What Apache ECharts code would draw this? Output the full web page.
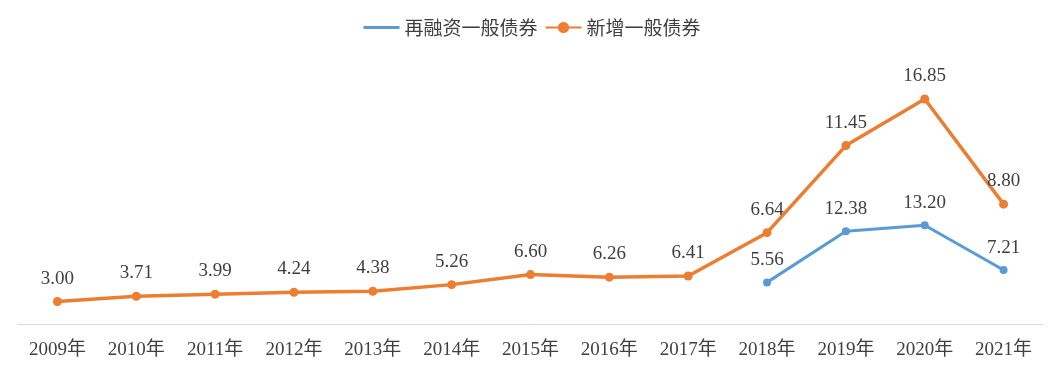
<!DOCTYPE html>
<html><head><meta charset="utf-8">
<script src="https://cdn.jsdelivr.net/npm/echarts@6/dist/echarts.min.js"></script>
<style>html,body{margin:0;padding:0;background:#fff}#c{width:1064px;height:376px}</style>
</head><body><div id="c"></div>
<script>
var categories = ['2009年','2010年','2011年','2012年','2013年','2014年','2015年','2016年','2017年','2018年','2019年','2020年','2021年'];
var refinanceValues = [null,null,null,null,null,null,null,null,null,5.56,12.38,13.20,7.21];
var newValues = [3.00,3.71,3.99,4.24,4.38,5.26,6.60,6.26,6.41,6.64,11.45,16.85,8.80];
var seriesNames = ['再融资一般债券','新增一般债券'];

var fontFam = '"Liberation Serif","Noto Sans CJK SC",serif';
var labelCfg = {show:true, position:'top', distance:9, color:'#404040', fontSize:19, fontFamily:fontFam,
  formatter:function(p){return p.value==null?'':Number(p.value).toFixed(2);}};

var chart = echarts.init(document.getElementById('c'), null, {renderer:'canvas'});
chart.setOption({
  animation:false,
  legend:{top:13, left:'center', itemWidth:36, itemHeight:14, itemGap:7,
    textStyle:{fontSize:19, color:'#404040', fontFamily:'"Noto Sans CJK SC",sans-serif'},
    data:[{name:seriesNames[0], icon:'path://M0 0H36V3H0Z'},{name:seriesNames[1]}]},
  grid:{left:18, right:21, top:62, bottom:52},
  xAxis:{type:'category', data:categories, boundaryGap:true,
    axisLine:{lineStyle:{color:'#d9d9d9', width:1}}, axisTick:{show:false},
    axisLabel:{color:'#404040', fontSize:19, fontFamily:fontFam, margin:17}},
  yAxis:{type:'value', min:0, max:35, show:false, splitLine:{show:false}},
  series:[
    {name:seriesNames[0], type:'line', stack:'total', data:refinanceValues,
     color:'#5B9BD5', symbol:'circle', symbolSize:8, lineStyle:{width:3, color:'#5B9BD5'},
     itemStyle:{color:'#5B9BD5'}, label:labelCfg},
    {name:seriesNames[1], type:'line', stack:'total', data:newValues,
     color:'#ED7D31', symbol:'circle', symbolSize:9, lineStyle:{width:3.5, color:'#ED7D31'},
     itemStyle:{color:'#ED7D31'}, label:labelCfg}
  ]
});
</script></body></html>
